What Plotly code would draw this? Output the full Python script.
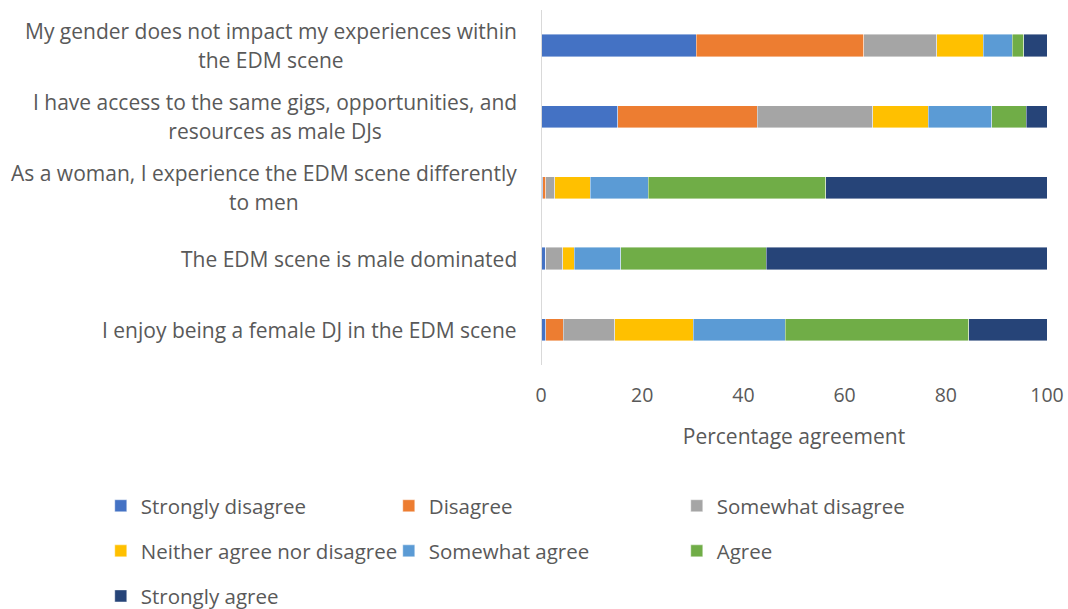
import plotly.graph_objects as go

# Survey statements (top to bottom); "<br>" marks the line wrap
statements = [
    "My gender does not impact my experiences within<br>the EDM scene",
    "I have access to the same gigs, opportunities, and<br>resources as male DJs",
    "As a woman, I experience the EDM scene differently<br>to men",
    "The EDM scene is male dominated",
    "I enjoy being a female DJ in the EDM scene",
]

responses = [
    "Strongly disagree",
    "Disagree",
    "Somewhat disagree",
    "Neither agree nor disagree",
    "Somewhat agree",
    "Agree",
    "Strongly agree",
]

colors = ["#4472C4", "#ED7D31", "#A5A5A5", "#FFC000", "#5B9BD5", "#70AD47", "#264478"]

# Percentage of respondents per response, in statement order
strongly_disagree = [30.7, 15.2, 0.3, 0.9, 0.9]
disagree = [33.1, 27.5, 0.6, 0.0, 3.5]
somewhat_disagree = [14.4, 22.9, 1.8, 3.4, 10.2]
neither = [9.2, 10.9, 7.0, 2.3, 15.5]
somewhat_agree = [5.7, 12.6, 11.5, 9.2, 18.2]
agree = [2.3, 6.8, 35.1, 28.7, 36.2]
strongly_agree = [4.6, 4.1, 43.7, 55.5, 15.5]

series = [strongly_disagree, disagree, somewhat_disagree, neither,
          somewhat_agree, agree, strongly_agree]

x_ticks = [0, 20, 40, 60, 80, 100]

FONT = "Open Sans, Carlito, Calibri, sans-serif"
GREY = "#595959"
LABEL_SIZE = 21

# Legend laid out in rows of three entries
legend_rows = ["legend", "legend", "legend", "legend2", "legend2", "legend2", "legend3"]

fig = go.Figure()
for name, vals, col, lg in zip(responses, series, colors, legend_rows):
    fig.add_trace(go.Bar(
        y=statements, x=vals, name=name, orientation="h", legend=lg,
        marker=dict(color=col, line=dict(color="rgba(255,255,255,0.6)", width=0.7)),
    ))

# Statement labels: right-anchored blocks with centred lines. The outer font
# size sets the line pitch; the inner span sets the glyph size.
for s in statements:
    styled = "<br>".join(
        f"<span style='font-size:{LABEL_SIZE}px'>{line}</span>" for line in s.split("<br>")
    )
    fig.add_annotation(
        x=0, xref="paper", y=s, yref="y", text=styled, showarrow=False,
        xanchor="right", xshift=-22, align="center",
        font=dict(family=FONT, size=22.5, color=GREY),
    )

legend_style = dict(
    orientation="h", x=-0.87, xanchor="left", yanchor="middle",
    entrywidth=243, entrywidthmode="pixels", traceorder="normal",
    font=dict(family=FONT, size=20.5, color=GREY), itemwidth=30,
    bgcolor="rgba(0,0,0,0)",
)

fig.update_layout(
    width=1068, height=609,
    margin=dict(l=541, r=21, t=10, b=244, autoexpand=False),
    barmode="stack", bargap=0.69,
    plot_bgcolor="white", paper_bgcolor="white",
    font=dict(family=FONT, size=18, color=GREY),
    showlegend=True,
    legend=dict(legend_style, y=-0.397),
    legend2=dict(legend_style, y=-0.524),
    legend3=dict(legend_style, y=-0.651),
    xaxis=dict(
        range=[0, 100], tickvals=x_ticks, showgrid=False, zeroline=False,
        showline=False, ticks="", tickfont=dict(size=19.5, color=GREY),
        ticklabelstandoff=16,
        title=dict(text="Percentage agreement", font=dict(size=21, color=GREY), standoff=22),
    ),
    yaxis=dict(
        autorange="reversed", showticklabels=False, showgrid=False,
        zeroline=False, showline=False, ticks="",
    ),
    shapes=[dict(type="line", xref="x", yref="paper", x0=0, x1=0, y0=0, y1=1,
                 line=dict(color="#D9D9D9", width=2))],
)

fig.write_html("out.html")
